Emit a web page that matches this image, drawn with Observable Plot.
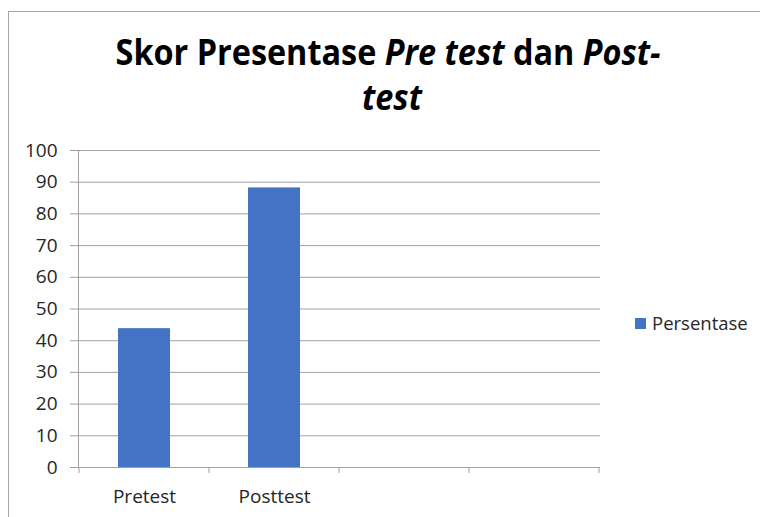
<!DOCTYPE html>
<html>
<head>
<meta charset="utf-8">
<script src="https://cdn.jsdelivr.net/npm/d3@7"></script>
<script src="https://cdn.jsdelivr.net/npm/@observablehq/plot@0.6"></script>
<style>
  body { margin: 0; background: #fff; }
  #wrap { position: relative; width: 760px; height: 517px; overflow: hidden; background: #fff; }
  #border { position: absolute; left: 8px; top: 11px; width: 900px; height: 700px;
            border-left: 1px solid #a6a6a6; border-top: 1px solid #a6a6a6; box-sizing: border-box; }
  #chart { position: absolute; left: 0; top: 0; }
  #overlay { position: absolute; left: 0; top: 0; }
</style>
</head>
<body>
<div id="wrap">
  <div id="border"></div>
  <div id="chart"></div>
  <svg id="overlay" width="760" height="517"></svg>
</div>
<script>
// ---- data ----
const categories = ["Pretest", "Posttest", "Kosong3", "Kosong4"];
const tickLabels = ["Pretest", "Posttest", "", ""];
const values = [43.8, 88.2, null, null];
const yTicks = [0, 10, 20, 30, 40, 50, 60, 70, 80, 90, 100];
const seriesName = "Persentase";
const titleLine1 = [
  {text: "Skor Presentase ", italic: false},
  {text: "Pre test", italic: true},
  {text: " dan ", italic: false},
  {text: "Post-", italic: true}
];
const titleLine2 = [{text: "test", italic: true}];

const barColor = "#4472c4";
const gridColor = "#a0a0a0";
const textColor = "#262626";

const data = categories.map((c, i) => ({c, v: values[i]}));

const boundaryTicks = (index, scales, vals, dims) => {
  const x = scales.x, y = scales.y;
  let step, bw;
  if (x.step && x.bandwidth) { step = x.step(); bw = x.bandwidth(); }
  else {
    const w = dims.width - dims.marginLeft - dims.marginRight;
    step = w / categories.length; bw = step * 0.4;
  }
  const pad = (step - bw) / 2;
  const xs = categories.map(c => x(c) - pad);
  xs.push(x(categories[categories.length - 1]) + bw + pad);
  const g = d3.create("svg:g");
  g.selectAll("line").data(xs).join("line")
    .attr("x1", d => d).attr("x2", d => d)
    .attr("y1", y(0)).attr("y2", y(0) + 6)
    .attr("stroke", gridColor);
  return g.node();
};

const chart = Plot.plot({
  width: 760,
  height: 517,
  marginTop: 150,
  marginBottom: 50,
  marginLeft: 78,
  marginRight: 160,
  style: {fontFamily: "'Open Sans', sans-serif", fontSize: "19px", color: textColor, background: "transparent"},
  x: {domain: categories, paddingInner: 0.6, paddingOuter: 0.3, align: 0.5},
  y: {domain: [0, 100]},
  marks: [
    Plot.gridY(yTicks, {stroke: gridColor, strokeOpacity: 1}),
    Plot.axisY(yTicks, {tickSize: 8, tickPadding: 13, stroke: gridColor, fill: textColor, label: null, fontSize: 19}),
    Plot.axisX({tickSize: 0, tickPadding: 22, label: null, fill: textColor, fontSize: 19,
                tickFormat: d => tickLabels[categories.indexOf(d)]}),
    Plot.frame({anchor: "left", stroke: gridColor}),
    Plot.barY(data.filter(d => d.v != null), {x: "c", y: "v", fill: barColor}),
    Plot.ruleY([0], {stroke: gridColor}),
    boundaryTicks
  ]
});
document.getElementById("chart").appendChild(chart);

// ---- title & legend overlay ----
const ov = d3.select("#overlay");
function titleLine(parts, cx, baseline, targetWidth, size) {
  const t = ov.append("text")
    .attr("text-anchor", "middle")
    .attr("font-family", "'Open Sans', sans-serif")
    .attr("font-weight", "bold")
    .attr("font-size", size)
    .attr("fill", "#000");
  parts.forEach(p => t.append("tspan").attr("font-style", p.italic ? "italic" : "normal").text(p.text));
  const w = t.node().getComputedTextLength();
  const s = targetWidth ? targetWidth / w : 0.85;
  t.attr("transform", `translate(${cx},${baseline}) scale(${s},1)`);
  return s;
}
const s1 = titleLine(titleLine1, 388, 65, 545, 35);
ov.append("text")
  .attr("text-anchor", "middle")
  .attr("font-family", "'Open Sans', sans-serif")
  .attr("font-weight", "bold").attr("font-style", "italic")
  .attr("font-size", 35).attr("fill", "#000")
  .attr("transform", `translate(392,110) scale(${s1},1)`)
  .text(titleLine2[0].text);

ov.append("rect").attr("x", 635).attr("y", 318).attr("width", 11).attr("height", 11).attr("fill", barColor);
ov.append("text").attr("x", 652).attr("y", 330)
  .attr("font-family", "'Open Sans', sans-serif").attr("font-size", 18.5).attr("fill", textColor)
  .text(seriesName);
</script>
</body>
</html>
